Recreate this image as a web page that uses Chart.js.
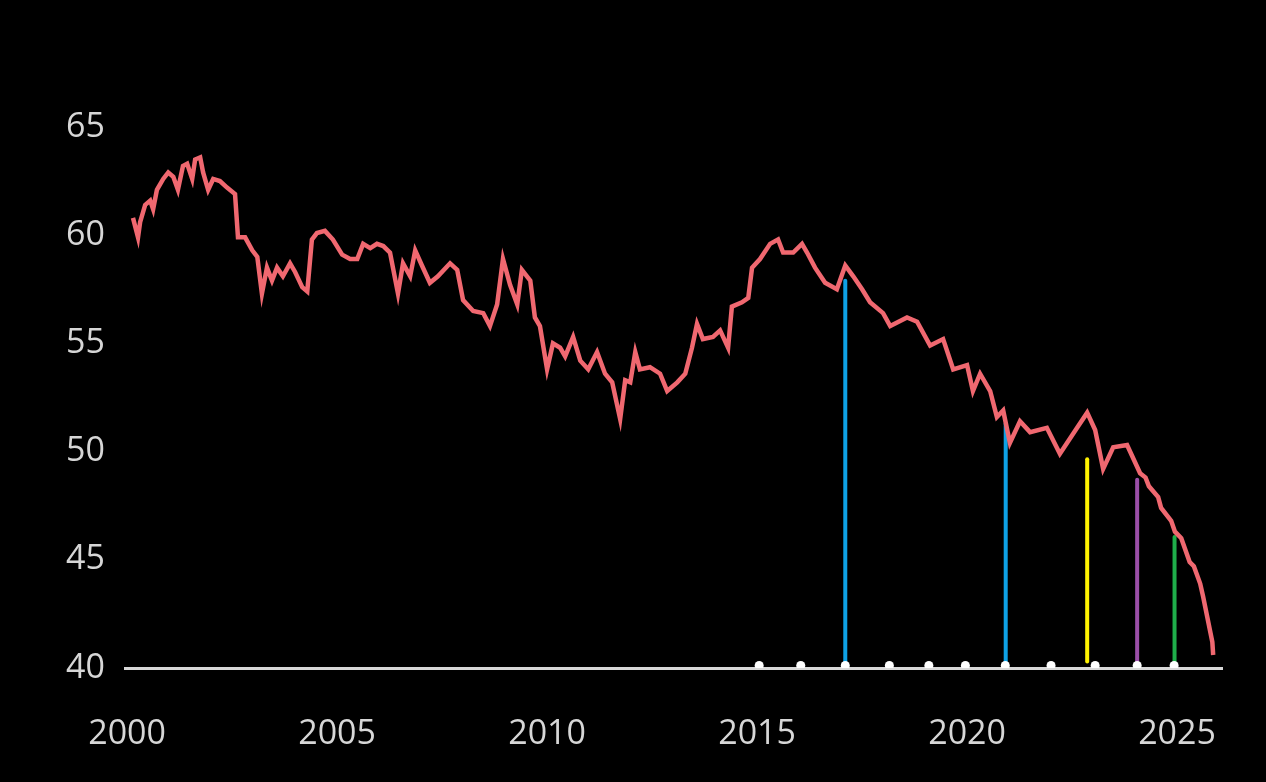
<!DOCTYPE html>
<html>
<head>
<meta charset="utf-8">
<script src="https://cdn.jsdelivr.net/npm/chart.js@4"></script>
<style>
  html, body { margin: 0; padding: 0; background: #000; }
  #wrap { width: 1266px; height: 782px; }
</style>
</head>
<body>
<div id="wrap"><canvas id="chart"></canvas></div>
<script>
// Series (decimal years, values)
const years = [2000.14, 2000.26, 2000.31, 2000.43, 2000.55, 2000.62, 2000.71, 2000.86, 2000.98, 2001.10,
  2001.21, 2001.33, 2001.43, 2001.55, 2001.62, 2001.74, 2001.81, 2001.93, 2002.05, 2002.21,
  2002.38, 2002.57, 2002.64, 2002.81, 2002.98, 2003.10, 2003.21, 2003.33, 2003.45, 2003.57,
  2003.71, 2003.88, 2004.00, 2004.17, 2004.29, 2004.40, 2004.52, 2004.71, 2004.90, 2005.12,
  2005.31, 2005.48, 2005.62, 2005.79, 2005.95, 2006.10, 2006.26, 2006.45, 2006.57, 2006.74,
  2006.86, 2007.02, 2007.21, 2007.40, 2007.69, 2007.86, 2008.00, 2008.24, 2008.48, 2008.64,
  2008.81, 2008.95, 2009.12, 2009.29, 2009.40, 2009.60, 2009.71, 2009.83, 2010.00, 2010.14,
  2010.31, 2010.43, 2010.62, 2010.79, 2010.98, 2011.19, 2011.38, 2011.55, 2011.74, 2011.86,
  2011.98, 2012.10, 2012.21, 2012.45, 2012.69, 2012.86, 2013.10, 2013.29, 2013.45, 2013.57,
  2013.71, 2013.95, 2014.12, 2014.31, 2014.40, 2014.64, 2014.79, 2014.88, 2015.07, 2015.31,
  2015.50, 2015.62, 2015.86, 2016.07, 2016.19, 2016.38, 2016.62, 2016.90, 2017.10, 2017.29,
  2017.50, 2017.69, 2018.00, 2018.17, 2018.57, 2018.81, 2019.12, 2019.43, 2019.67, 2020.00,
  2020.14, 2020.31, 2020.55, 2020.71, 2020.86, 2021.02, 2021.26, 2021.50, 2021.90, 2022.21,
  2022.62, 2022.86, 2023.05, 2023.24, 2023.48, 2023.81, 2024.12, 2024.25, 2024.33, 2024.55,
  2024.62, 2024.86, 2024.95, 2025.10, 2025.30, 2025.40, 2025.55, 2025.62, 2025.84, 2025.86];
const values = [60.8, 59.9, 60.6, 61.4, 61.6, 61.2, 62.1, 62.6, 62.9, 62.7,
  62.1, 63.2, 63.3, 62.6, 63.5, 63.6, 62.9, 62.1, 62.6, 62.5,
  62.2, 61.9, 59.9, 59.9, 59.3, 59.0, 57.3, 58.5, 57.9, 58.5,
  58.1, 58.7, 58.3, 57.6, 57.4, 59.8, 60.1, 60.2, 59.8, 59.1,
  58.9, 58.9, 59.6, 59.4, 59.6, 59.5, 59.2, 57.3, 58.7, 58.1,
  59.3, 58.6, 57.8, 58.1, 58.7, 58.4, 57.0, 56.5, 56.4, 55.8,
  56.8, 58.9, 57.7, 56.8, 58.4, 57.9, 56.2, 55.8, 53.8, 55.0,
  54.8, 54.4, 55.3, 54.2, 53.8, 54.6, 53.6, 53.2, 51.5, 53.3,
  53.2, 54.6, 53.8, 53.9, 53.6, 52.8, 53.2, 53.6, 54.8, 55.9,
  55.2, 55.3, 55.6, 54.8, 56.7, 56.9, 57.1, 58.5, 58.9, 59.6,
  59.8, 59.2, 59.2, 59.6, 59.2, 58.5, 57.8, 57.5, 58.6, 58.1,
  57.5, 56.9, 56.4, 55.8, 56.2, 56.0, 54.9, 55.2, 53.8, 54.0,
  52.8, 53.6, 52.8, 51.6, 51.9, 50.4, 51.4, 50.9, 51.1, 49.9,
  51.1, 51.8, 51.0, 49.2, 50.2, 50.3, 49.0, 48.8, 48.4, 47.9,
  47.4, 46.8, 46.3, 46.0, 44.9, 44.7, 43.9, 43.3, 41.2, 40.6];

// Coloured event markers (vertical lines)
const eventYears = [2017.10, 2020.92, 2022.86, 2024.05, 2024.94];
const eventTops = [57.9, 51.3, 49.65, 48.7, 46.05];
const eventColors = ['#0ea2e6', '#0ea2e6', '#fff200', '#9b4fa8', '#1fae4a'];

// White dots on the baseline
const dotYears = [2015.05, 2016.04, 2017.10, 2018.15, 2019.09, 2019.96, 2020.91, 2022.00, 2023.05, 2024.05, 2024.93];

const xTickLabels = [2000, 2005, 2010, 2015, 2020, 2025];
const yTickLabels = [40, 45, 50, 55, 60, 65];

const datasets = [];

datasets.push({
    data: years.map((y, i) => ({ x: y, y: values[i] })),
    borderColor: '#f06870',
    borderWidth: 4.5,
    pointRadius: 0,
    tension: 0,
    order: 1
});

eventYears.forEach((y, i) => {
    datasets.push({
        data: [{ x: y, y: 40.3 }, { x: y, y: eventTops[i] }],
        borderColor: eventColors[i],
        borderWidth: 4,
        borderCapStyle: 'round',
        pointRadius: 0,
        order: 2
    });
});

datasets.push({
    data: dotYears.map(y => ({ x: y, y: 40.12 })),
    showLine: false,
    pointRadius: 4.5,
    pointBackgroundColor: '#fff',
    pointBorderWidth: 0,
    order: 0
});

const tickFont = { family: 'Open Sans', size: 34 };

new Chart(document.getElementById('chart'), {
    type: 'line',
    data: { datasets },
    options: {
        responsive: true,
        maintainAspectRatio: false,
        animation: false,
        layout: { padding: { top: 127, right: 44, left: 0, bottom: 0 } },
        plugins: { legend: { display: false }, tooltip: { enabled: false } },
        scales: {
            x: {
                type: 'linear',
                min: 1999.95,
                max: 2026.07,
                afterBuildTicks: s => { s.ticks = xTickLabels.map(v => ({ value: v })); },
                afterFit: s => { s.height = 114; },
                grid: { display: false, drawTicks: false },
                border: { display: true, color: '#d8d8d8', width: 3 },
                ticks: { color: '#d6d6d6', font: tickFont, padding: 46, maxRotation: 0, callback: v => String(v) }
            },
            y: {
                min: 40,
                max: 65,
                afterBuildTicks: s => { s.ticks = yTickLabels.map(v => ({ value: v })); },
                afterFit: s => { s.width = 125; },
                grid: { display: false, drawTicks: false },
                border: { display: false },
                ticks: { color: '#d6d6d6', font: tickFont, padding: 20 }
            }
        }
    }
});
</script>
</body>
</html>
